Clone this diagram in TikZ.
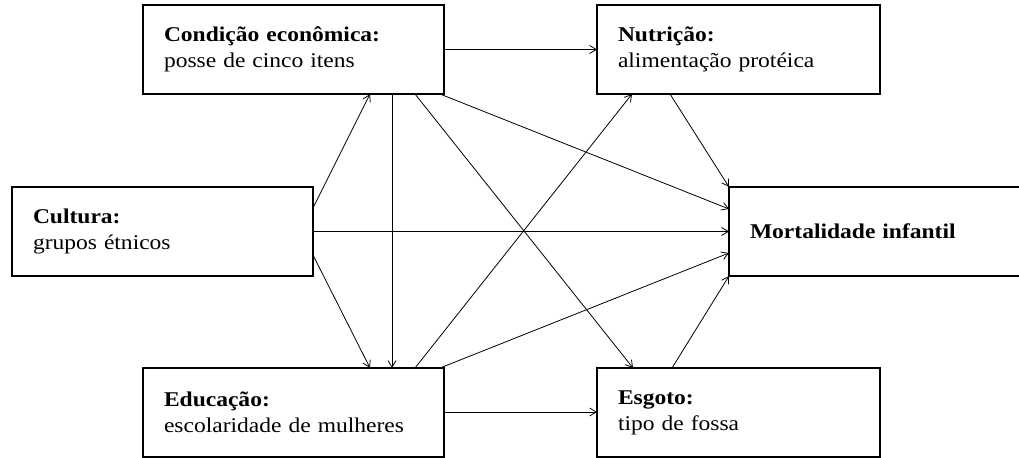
\documentclass[tikz,border=0pt]{standalone}
\usepackage{fontspec}
\setmainfont[FakeStretch=1.12]{Liberation Serif}
\usetikzlibrary{arrows.meta,calc}
\begin{document}
\begin{tikzpicture}[x=0.75pt,y=-0.75pt,
  box/.style={draw, line width=1.1pt, rectangle, anchor=north west, outer sep=0pt,
    inner xsep=15.75pt, inner ysep=0pt, align=left, text width=194.25pt,
    minimum width=225.75pt, minimum height=66.75pt,
    font=\fontsize{15.75}{19.5}\selectfont},
  conn/.style={line width=0.6pt, -{Straight Barb[length=5pt,width=6pt]}}]
\useasboundingbox (0,0) rectangle (1019,457);
\clip (0,0) rectangle (1019,457);
\node[box] (cond) at (143,5) {\textbf{Condição econômica:}\\posse de cinco itens};
\node[box, minimum width=212.25pt, text width=180.75pt] (nutr) at (597,5) {\textbf{Nutrição:}\\alimentação protéica};
\node[box] (cult) at (12,187) {\textbf{Cultura:}\\grupos étnicos};
\node[box] (mort) at (729,187) {\textbf{Mortalidade infantil}};
\node[box, minimum height=66.6pt] (educ) at (143,368) {\textbf{Educação:}\\escolaridade de mulheres};
\node[box, minimum width=212.25pt, text width=180.75pt, minimum height=66.6pt] (esgo) at (597,368) {\textbf{Esgoto:}\\tipo de fossa};
% connectors
\draw[conn] (cond.east) -- (cond.east -| nutr.west);
\draw[conn] ($(cult.north east)+(0,21)$) -- ($(cond.south west)+(227,0)$);
\draw[conn] (cult.east) -- (cult.east -| mort.west);
\draw[conn] ($(cult.south east)+(0,-21)$) -- ($(educ.north west)+(227,0)$);
\draw[conn] ($(cond.south west)+(249,0)$) -- ($(educ.north west)+(249,0)$);
\draw[conn] ($(cond.south west)+(272,0)$) -- ($(esgo.north west)+(36,0)$);
\draw[conn] ($(cond.south east)+(-4,0)$) -- ($(mort.north west)+(0,22)$);
\draw[conn] ($(educ.north west)+(272,0)$) -- ($(nutr.south west)+(35,0)$);
\draw[conn] ($(educ.north east)+(-4,0)$) -- ($(mort.north west)+(0,66)$);
\draw[conn] ($(educ.north east)+(0,44)$) -- ($(esgo.north west)+(0,44)$);
\draw[conn] ($(nutr.south west)+(73,0)$) -- (mort.north west);
\draw[conn] ($(esgo.north west)+(75,0)$) -- (mort.south west);
\end{tikzpicture}
\end{document}
